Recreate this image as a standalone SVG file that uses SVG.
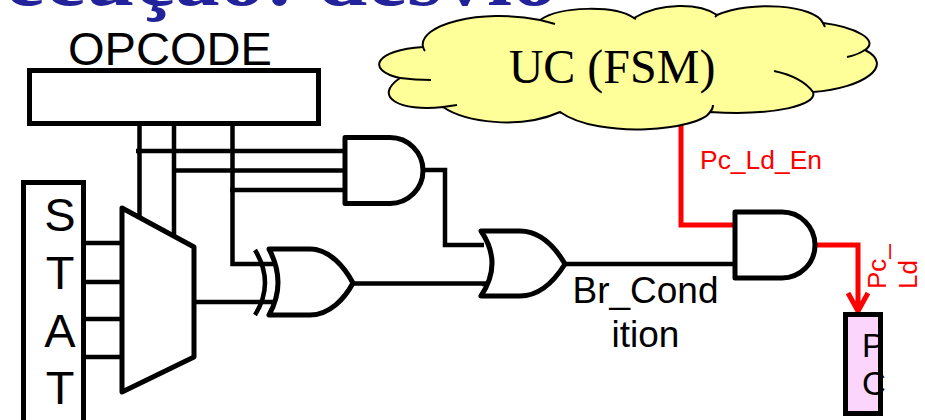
<svg xmlns="http://www.w3.org/2000/svg" width="925" height="420" viewBox="0 0 925 420">
<style>
.w{fill:none;stroke:#000;stroke-width:4.5}
.r{fill:none;stroke:#f00;stroke-width:5}
.g{fill:#fff;stroke:#000;stroke-width:5;stroke-linejoin:round}
.s{font-family:"Liberation Sans",Arial,sans-serif;fill:#000}
.red{fill:#f00}
.m{text-anchor:middle}
.t{font-family:"Liberation Serif",serif;fill:#22229a;font-size:80px;font-weight:bold}
.c{fill:none;stroke:#000;stroke-width:2}
</style>
<rect width="925" height="420" fill="#fff"/>
<text class="t" x="5" y="5" textLength="552" lengthAdjust="spacingAndGlyphs">ecução: desvio</text>
<g id="connectors">
<path class="w" d="M139.500 126V218M174 126V236M232.500 126V264H273M136 151H345M172 170.500H345M230 190H345"/>
<path class="w" d="M84 243H122M84 282H122M84 319H122M84 357H122M195 302H276M425 170H445V245H484M353 283.500H492M565 264H735M482 284H492"/>
<path class="r" d="M681 122V225H735M816 245H858V310M848 293L858 311L868 293"/>
</g>
<g id="opcode"><rect x="29.500" y="70.500" width="289" height="53" fill="#fff" stroke="#000" stroke-width="5"/><text class="s m" x="170" y="64.500" font-size="47" textLength="204" lengthAdjust="spacingAndGlyphs">OPCODE</text></g>
<g id="stat"><rect x="23.500" y="182.500" width="60" height="245" fill="#fff" stroke="#000" stroke-width="5"/>
<text class="s m" x="60" y="231" font-size="47">S</text><text class="s m" x="60" y="289" font-size="47">T</text><text class="s m" x="60" y="347" font-size="47">A</text><text class="s m" x="60" y="404" font-size="47">T</text></g>
<g id="mux"><path class="g" d="M122 208L194 247V357L122 392Z"/></g>
<g id="and1"><path class="g" d="M345 137.500H390A33 33 0 0 1 390 203.500H345Z"/></g>
<g id="xor"><path class="w" d="M255 250Q275 283 255 315"/><path class="g" d="M269 249Q287 283 269 315H310C330 315 345 298 353 283C345 268 330 249 310 249Z"/></g>
<g id="or"><path class="g" d="M481 231Q503 263 481 296H520C540 296 555 280 565 264C555 247 540 231 520 231Z"/></g>
<g id="and2"><path class="g" d="M735 212H782A33 33 0 0 1 782 278H735Z"/></g>
<g id="cloud"><path d="M423 47C418 25 480 8 540 20C560 6 615 5 634 18C660 2 700 3 717 15C750 0 815 5 823 23C855 27 880 40 865 50C895 65 865 88 813 92C818 105 775 116 710 112C700 130 600 140 560 112C520 130 465 122 443 107C400 112 372 97 400 78C365 70 375 50 423 47Z" fill="#ffff99" stroke="#000" stroke-width="2"/><path class="c" d="M423 47Q424 50 425 51M400 78Q415 80 431 80M443 107Q450 106 457 105M540 20Q548 22 555 24M634 18L636 19M717 15L715 17M823 23L825 27M865 50Q857 55 847 57M774 71Q802 77 813 92M713 105Q713 109 710 112M560 112L561 113"/><text x="612" y="83" text-anchor="middle" font-family="Liberation Serif,serif" font-size="48" fill="#000">UC (FSM)</text></g>
<text class="s red" x="700" y="169" font-size="26" textLength="122" lengthAdjust="spacingAndGlyphs">Pc_Ld_En</text>
<text class="s m" x="645.500" y="303" font-size="37">Br_Cond</text>
<text class="s m" x="645.500" y="347" font-size="37">ition</text>
<g id="pc"><rect x="845.500" y="314.500" width="35" height="99" fill="#fcd5fc" stroke="#000" stroke-width="5"/><text class="s" x="862" y="357" font-size="33">P</text><text class="s" x="862" y="395" font-size="33">C</text></g>
<text class="s red" font-size="26" transform="translate(886 289) rotate(-90)">Pc_</text>
<text class="s red" font-size="26" transform="translate(917 289) rotate(-90)">Ld</text>
</svg>
